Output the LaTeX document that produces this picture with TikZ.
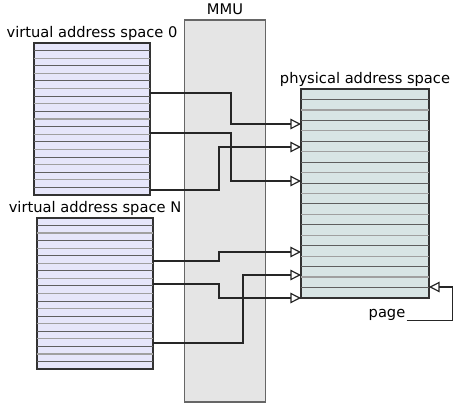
\documentclass[tikz,border=0pt]{standalone}
\usepackage{fontspec}
\setmainfont{DejaVu Sans}
\usetikzlibrary{arrows.meta,calc,positioning}
\definecolor{lavender}{RGB}{230,230,250}
\definecolor{paleteal}{RGB}{216,229,229}
\definecolor{mmugray}{RGB}{229,229,229}
\definecolor{rowdark}{RGB}{95,95,95}
\definecolor{rowlight}{RGB}{160,160,160}

\begin{document}
\begin{tikzpicture}[x=0.75pt,y=-0.75pt,font=\fontsize{11}{13}\selectfont,
  block/.style={draw=black!80,line width=0.8pt,inner sep=0pt,outer sep=0pt},
  box size/.style 2 args={minimum width=#1*0.75pt,minimum height=#2*0.75pt},
  caption/.style={inner sep=0pt},
  link/.style={black!85,line width=0.9pt,-{Triangle[open,length=8pt,width=8pt]}}]
  \useasboundingbox (0,0) rectangle (453,403);

  % the MMU column, drawn first so the links run over it
  \node[block,draw=black!60,fill=mmugray,box size={81}{382}] (mmu) at (225,211) {};
  \node[caption,above=4pt of mmu] (mmulabel) {MMU};

  % address spaces
  \node[block,fill=lavender,box size={116}{152}] (vas0) at (92,119) {};
  \node[block,fill=lavender,box size={116}{151}] (vasN) at (95,293.5) {};
  \node[block,fill=paleteal,box size={128}{209}] (phys) at (365,193.5) {};
  \node[caption,above=2pt of vas0] (vas0label) {virtual address space 0};
  \node[caption,above=2pt of vasN] (vasNlabel) {virtual address space N};
  \node[caption,above=2pt of phys] (physlabel) {physical address space};

  % page rows, 20 per space
  \foreach \sp in {vas0,vasN,phys} {
    \foreach \i in {1,3,...,19}
      \draw[rowdark,line width=0.75pt] ($(\sp.north west)!\i/20!(\sp.south west)$)
        -- ($(\sp.north east)!\i/20!(\sp.south east)$);
    \foreach \i in {2,4,...,18}
      \draw[rowlight,line width=1pt] ($(\sp.north west)!\i/20!(\sp.south west)$)
        -- ($(\sp.north east)!\i/20!(\sp.south east)$);
  }

  % ports
  \coordinate (v0a) at ($(vas0.north east)+(0,50)$);
  \coordinate (v0b) at ($(vas0.north east)+(0,90)$);
  \coordinate (v0c) at ($(vas0.north east)+(0,147)$);
  \coordinate (vna) at ($(vasN.north east)+(0,43)$);
  \coordinate (vnb) at ($(vasN.north east)+(0,66)$);
  \coordinate (vnc) at ($(vasN.north east)+(0,125)$);
  \coordinate (pa) at ($(phys.north west)+(0,35)$);
  \coordinate (pb) at ($(phys.north west)+(0,58)$);
  \coordinate (pc) at ($(phys.north west)+(0,92)$);
  \coordinate (pd) at ($(phys.north west)+(0,163)$);
  \coordinate (pe) at ($(phys.north west)+(0,186)$);
  \coordinate (pf) at (phys.south west);
  \coordinate (pg) at ($(phys.north east)+(0,198)$);

  \node[caption] (page) at (387,315) {page};
  \coordinate (pagefoot) at ($(page.base east)+(1,3)$);

  % mappings
  \draw[link] (v0a) -- ++(81,0) |- (pa);
  \draw[link] (v0b) -- ++(81,0) |- (pc);
  \draw[link] (v0c) -- ++(69,0) |- (pb);
  \draw[link] (vna) -- ++(66,0) |- (pd);
  \draw[link] (vnb) -- ++(66,0) |- (pf);
  \draw[link] (vnc) -- ++(90,0) |- (pe);
  \draw[link] (pagefoot) -- ++(46,0) |- (pg);
\end{tikzpicture}
\end{document}
